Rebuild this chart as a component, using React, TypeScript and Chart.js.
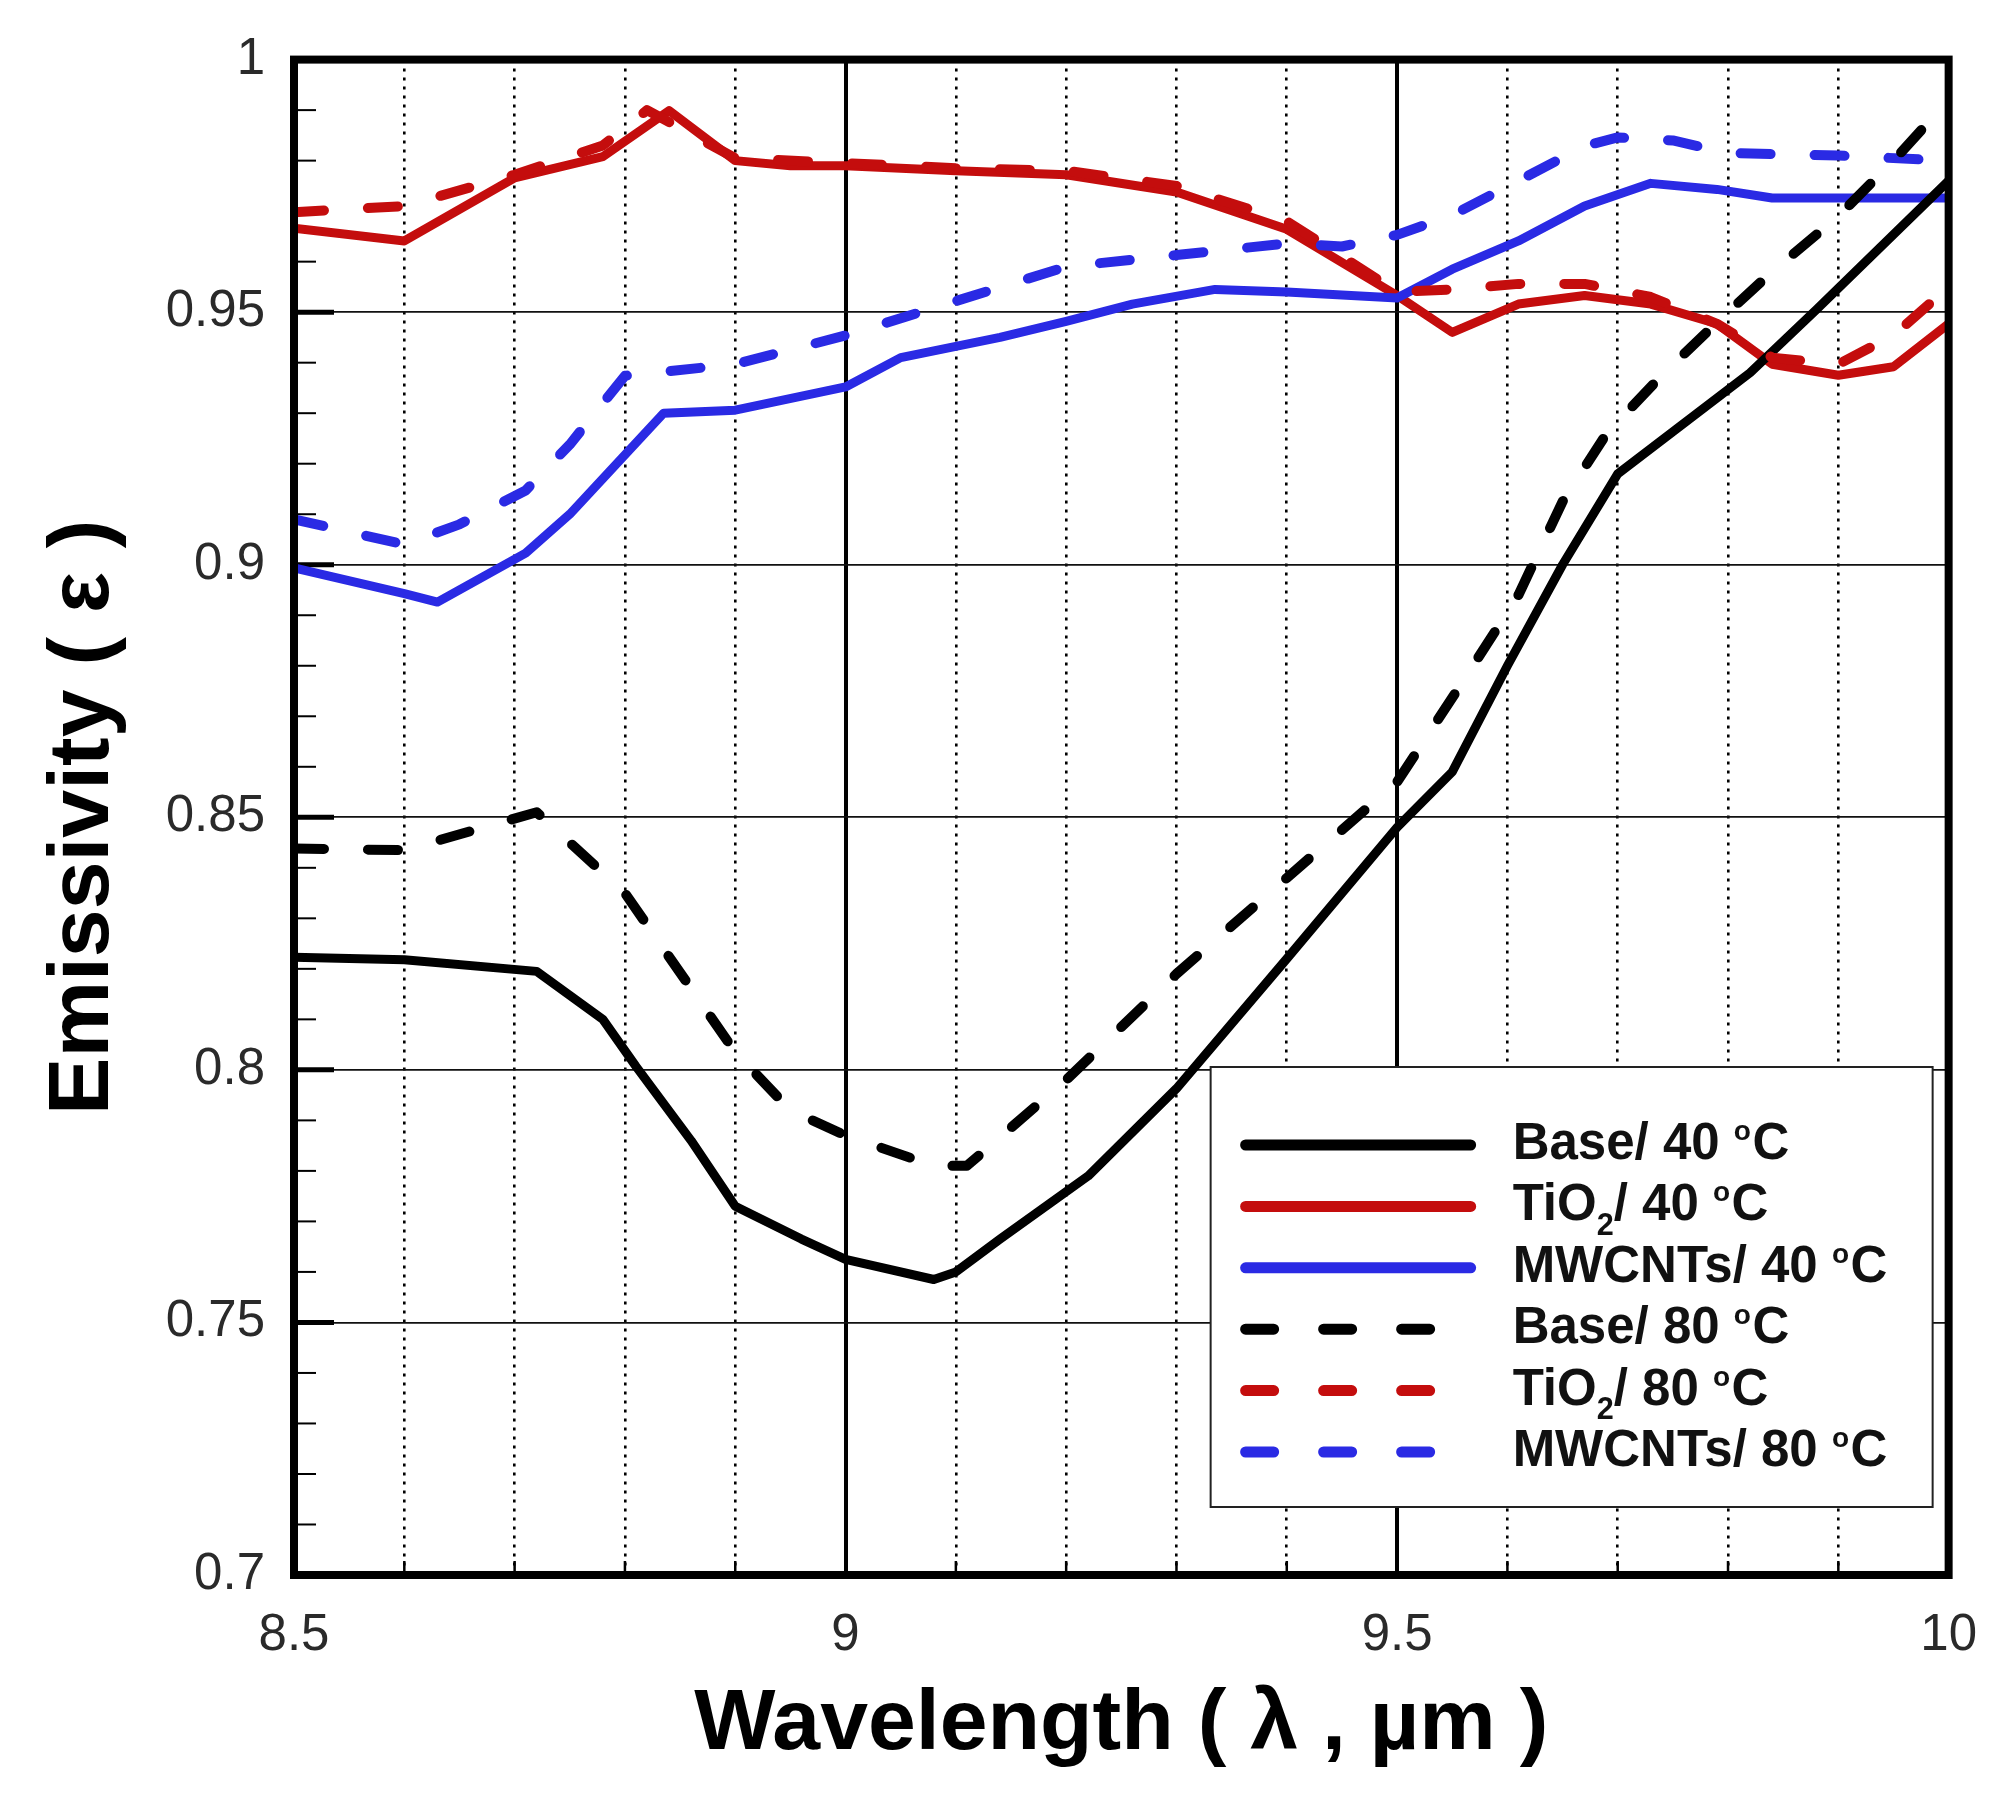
import { useEffect, useRef } from 'react';
import { Chart, registerables } from 'chart.js';

Chart.register(...registerables);

const FONT = "'Liberation Sans', Arial, sans-serif";

// wavelength (um) / emissivity
const wlBase40 = [8.5, 8.6, 8.72, 8.78, 8.81, 8.86, 8.9, 8.96, 9.0, 9.08, 9.1, 9.14, 9.22, 9.3, 9.4, 9.5, 9.55, 9.6, 9.65, 9.7, 9.82, 9.88, 10];
const emBase40 = [0.8223, 0.8218, 0.8195, 0.81, 0.8007, 0.786, 0.773, 0.7665, 0.7625, 0.7585, 0.76, 0.7665, 0.779, 0.7963, 0.822, 0.848, 0.859, 0.88, 0.9, 0.918, 0.938, 0.9505, 0.976];

const wlTiO240 = [8.5, 8.6, 8.7, 8.78, 8.84, 8.9, 8.95, 9.0, 9.1, 9.2, 9.3, 9.4, 9.5, 9.55, 9.61, 9.67, 9.73, 9.79, 9.84, 9.9, 9.95, 10];
const emTiO240 = [0.9666, 0.9641, 0.9766, 0.9808, 0.9899, 0.98, 0.979, 0.979, 0.978, 0.9772, 0.9738, 0.9664, 0.9533, 0.946, 0.9516, 0.9533, 0.9516, 0.9477, 0.9397, 0.9375, 0.9392, 0.9477];

const wlMwcnt40 = [8.5, 8.6, 8.63, 8.71, 8.75, 8.835, 8.9, 9.0, 9.05, 9.14, 9.2, 9.26, 9.335, 9.4, 9.5, 9.55, 9.61, 9.67, 9.73, 9.79, 9.84, 10];
const emMwcnt40 = [0.8994, 0.8943, 0.8926, 0.9023, 0.91, 0.93, 0.9306, 0.9352, 0.941, 0.945, 0.9482, 0.9516, 0.9545, 0.954, 0.9528, 0.9585, 0.9641, 0.971, 0.9755, 0.9743, 0.9726, 0.9726];

const wlBase80 = [8.5, 8.6, 8.72, 8.8, 8.9, 8.95, 9.0, 9.08, 9.11, 9.2, 9.3, 9.4, 9.5, 9.56, 9.61, 9.65, 9.69, 9.74, 9.79, 9.84, 9.9, 9.95, 10];
const emBase80 = [0.8438, 0.8435, 0.851, 0.835, 0.8035, 0.792, 0.787, 0.781, 0.781, 0.798, 0.819, 0.838, 0.857, 0.877, 0.894, 0.9125, 0.926, 0.9375, 0.948, 0.958, 0.969, 0.98, 0.992];

const wlTiO280 = [8.5, 8.6, 8.7, 8.78, 8.82, 8.9, 9.0, 9.1, 9.2, 9.3, 9.4, 9.5, 9.55, 9.61, 9.67, 9.73, 9.79, 9.84, 9.9, 9.95, 10];
const emTiO280 = [0.9698, 0.971, 0.9772, 0.983, 0.99, 0.9805, 0.9795, 0.9785, 0.978, 0.975, 0.968, 0.954, 0.9545, 0.9556, 0.9556, 0.953, 0.9477, 0.941, 0.9397, 0.9454, 0.955];

const wlMwcnt80 = [8.5, 8.6, 8.65, 8.71, 8.75, 8.8, 8.9, 9.0, 9.1, 9.2, 9.3, 9.4, 9.45, 9.5, 9.55, 9.61, 9.67, 9.7, 9.75, 9.8, 9.9, 10];
const emMwcnt80 = [0.909, 0.904, 0.908, 0.9147, 0.9238, 0.9374, 0.9397, 0.9454, 0.9522, 0.959, 0.9613, 0.9636, 0.963, 0.9653, 0.9692, 0.976, 0.9829, 0.9846, 0.984, 0.9815, 0.981, 0.98];

const seriesLabels = ['Base/ 40 °C', 'TiO₂/ 40 °C', 'MWCNTs/ 40 °C', 'Base/ 80 °C', 'TiO₂/ 80 °C', 'MWCNTs/ 80 °C'];

const xTickValues = [8.5, 9, 9.5, 10];
const xTickLabels = ['8.5', '9', '9.5', '10'];
const yTickValues = [0.7, 0.75, 0.8, 0.85, 0.9, 0.95, 1];
const yTickLabels = ['0.7', '0.75', '0.8', '0.85', '0.9', '0.95', '1'];

const RED = '#c40d0d';
const BLUE = '#2a2ae4';
const BLACK = '#000000';

const near = (a: number, b: number) => Math.abs(a - b) < 1e-6;
const toPoints = (xs: number[], ys: number[]) => xs.map((x, i) => ({ x, y: ys[i] }));

// draws "TiO₂/ 40 °C" with real sub/superscripts
function drawRichText(ctx: CanvasRenderingContext2D, text: string, x: number, y: number, size: number) {
  let cx = x;
  let run = '';
  const flush = () => {
    if (!run) return;
    ctx.font = `bold ${size}px ${FONT}`;
    ctx.fillText(run, cx, y);
    cx += ctx.measureText(run).width;
    run = '';
  };
  for (const ch of text) {
    if (ch === '₂') {
      flush();
      ctx.font = `bold ${size * 0.6}px ${FONT}`;
      ctx.fillText('2', cx, y + size * 0.4);
      cx += ctx.measureText('2').width;
    } else if (ch === '°') {
      flush();
      ctx.font = `bold ${size * 0.55}px ${FONT}`;
      ctx.fillText('o', cx, y - size * 0.25);
      cx += ctx.measureText('o').width + size * 0.03;
    } else {
      run += ch;
    }
  }
  flush();
}

const framePlugin = {
  id: 'frameAndLegend',
  beforeDatasetsDraw(chart: any) {
    const { ctx, chartArea } = chart;
    const { left, bottom } = chartArea;
    const xs = chart.scales.x;
    const ys = chart.scales.y;
    ctx.save();
    ctx.strokeStyle = '#000';
    // inward ticks on the left axis
    for (let k = 71; k < 100; k++) {
      const py = ys.getPixelForValue(k / 100);
      const major = k % 5 === 0;
      ctx.lineWidth = major ? 5 : 2;
      ctx.beginPath();
      ctx.moveTo(left, py);
      ctx.lineTo(left + (major ? 40 : 22), py);
      ctx.stroke();
    }
    // inward ticks on the bottom axis
    for (let k = 86; k < 100; k++) {
      const px = xs.getPixelForValue(k / 10);
      ctx.lineWidth = 2.5;
      ctx.beginPath();
      ctx.moveTo(px, bottom);
      ctx.lineTo(px, bottom - 14);
      ctx.stroke();
    }
    ctx.restore();
  },
  afterDatasetsDraw(chart: any) {
    const { ctx, chartArea } = chart;
    const { left, top, right, bottom } = chartArea;
    ctx.save();
    ctx.strokeStyle = '#000';
    ctx.lineWidth = 8;
    ctx.strokeRect(left, top, right - left, bottom - top);

    // legend box
    const bx = right - 738;
    const by = bottom - 508;
    const bw = 722;
    const bh = 440;
    ctx.fillStyle = '#fff';
    ctx.fillRect(bx, by, bw, bh);
    ctx.lineWidth = 2;
    ctx.strokeStyle = '#222';
    ctx.strokeRect(bx, by, bw, bh);

    chart.data.datasets.forEach((ds: any, i: number) => {
      const ry = by + 78 + i * 61.4;
      const lx = bx + 29;
      const dashed = ds.borderDash && ds.borderDash.length > 0;
      ctx.strokeStyle = ds.borderColor;
      ctx.lineWidth = 11;
      ctx.lineCap = 'round';
      ctx.setLineDash(dashed ? [28, 50] : []);
      ctx.beginPath();
      ctx.moveTo(lx + 6, ry);
      ctx.lineTo(lx + (dashed ? 196 : 231), ry);
      ctx.stroke();
      ctx.setLineDash([]);
      ctx.fillStyle = '#111';
      ctx.textBaseline = 'middle';
      ctx.textAlign = 'left';
      drawRichText(ctx, ds.label, bx + 302, ry, 51);
    });
    ctx.restore();
  },
};

export default function App() {
  const canvasRef = useRef<HTMLCanvasElement>(null);

  useEffect(() => {
    if (!canvasRef.current) return;
    const colors = [BLACK, RED, BLUE, BLACK, RED, BLUE];
    const series = [
      toPoints(wlBase40, emBase40),
      toPoints(wlTiO240, emTiO240),
      toPoints(wlMwcnt40, emMwcnt40),
      toPoints(wlBase80, emBase80),
      toPoints(wlTiO280, emTiO280),
      toPoints(wlMwcnt80, emMwcnt80),
    ];
    // draw order: red first, then blue, black on top
    const order = [2, 4, 3, 0, 1, 0];
    const datasets = series.map((data, i) => {
      const dashed = i >= 3;
      return {
        label: seriesLabels[i],
        data,
        borderColor: colors[i],
        backgroundColor: colors[i],
        borderWidth: dashed ? 10 : 9,
        borderDash: dashed ? [30, 44] : [],
        borderCapStyle: dashed ? 'round' : 'butt',
        borderJoinStyle: 'round',
        pointRadius: 0,
        tension: 0,
        fill: false,
        order: order[i],
      };
    });

    const chart = new Chart(canvasRef.current, {
      type: 'line',
      data: { datasets } as any,
      options: {
        animation: false,
        responsive: false,
        layout: { padding: { top: 57, right: 51, left: 0, bottom: 0 } },
        plugins: {
          legend: { display: false },
          tooltip: { enabled: false },
        },
        scales: {
          x: {
            type: 'linear',
            min: 8.5,
            max: 10,
            afterFit: (scale: any) => {
              scale.height = 229;
            },
            ticks: {
              stepSize: 0.1,
              autoSkip: false,
              maxRotation: 0,
              padding: 30,
              color: '#2a2a2a',
              font: { family: FONT, size: 51 },
              callback: (v: any) => {
                const idx = xTickValues.findIndex((t) => near(t, Number(v)));
                return idx >= 0 ? xTickLabels[idx] : '';
              },
            },
            grid: {
              drawTicks: false,
              color: (c: any) => {
                const v = c.tick ? c.tick.value : 0;
                return near(v, 8.5) || near(v, 10) ? 'rgba(0,0,0,0)' : '#000';
              },
              lineWidth: (c: any) => {
                const v = c.tick ? c.tick.value : 0;
                if (near(v, 8.5) || near(v, 10)) return 0;
                return near(v, 9) || near(v, 9.5) ? 4 : 2.6;
              },
            },
            border: {
              display: false,
              dash: (c: any) => {
                const v = c.tick ? c.tick.value : 0;
                return near(v, 9) || near(v, 9.5) ? [] : [3, 6];
              },
            },
            title: {
              display: true,
              text: 'Wavelength ( λ , µm )',
              color: '#000',
              font: { family: FONT, size: 86, weight: 'bold' },
              padding: { top: 0, bottom: 27 },
            },
          },
          y: {
            type: 'linear',
            min: 0.7,
            max: 1,
            afterFit: (scale: any) => {
              scale.width = 294;
            },
            ticks: {
              stepSize: 0.05,
              padding: 29,
              color: '#2a2a2a',
              font: { family: FONT, size: 51 },
              callback: (v: any) => {
                const idx = yTickValues.findIndex((t) => near(t, Number(v)));
                return idx >= 0 ? yTickLabels[idx] : '';
              },
            },
            grid: {
              drawTicks: false,
              color: (c: any) => {
                const v = c.tick ? c.tick.value : 0;
                return near(v, 0.7) || near(v, 1) ? 'rgba(0,0,0,0)' : '#111';
              },
              lineWidth: (c: any) => {
                const v = c.tick ? c.tick.value : 0;
                return near(v, 0.7) || near(v, 1) ? 0 : 1.8;
              },
            },
            border: { display: false },
            title: {
              display: true,
              text: 'Emissivity ( ε )',
              color: '#000',
              font: { family: FONT, size: 86, weight: 'bold' },
              padding: { top: 33, bottom: 0 },
            },
          },
        },
      } as any,
      plugins: [framePlugin],
    });

    return () => {
      chart.destroy();
    };
  }, []);

  return (
    <div style={{ position: 'absolute', left: 0, top: 0, width: 2007, height: 1804, background: '#fff' }}>
      <canvas ref={canvasRef} width={2007} height={1804} />
    </div>
  );
}
